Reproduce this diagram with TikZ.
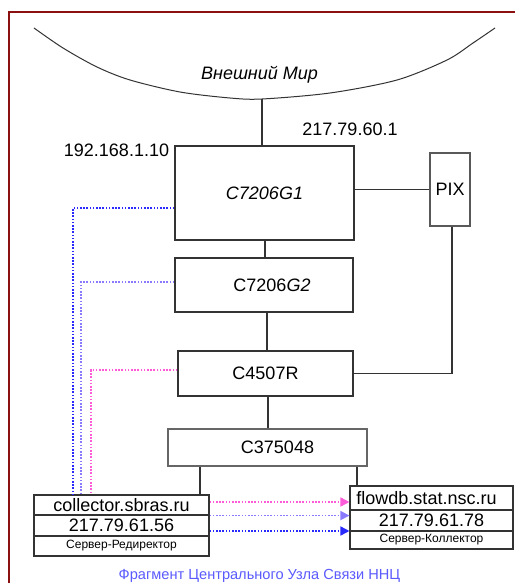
\documentclass[tikz,border=0pt]{standalone}
\usepackage{fontspec}
\setmainfont{Liberation Sans}
\usetikzlibrary{arrows.meta,calc}
\definecolor{framec}{HTML}{8B1010}
\definecolor{bluec}{HTML}{2A2AFF}
\definecolor{purplec}{HTML}{8A7AFF}
\definecolor{pinkc}{HTML}{FF5AD7}
\definecolor{capc}{HTML}{5A5AFF}
\definecolor{linec}{HTML}{333333}
\begin{document}
\begin{tikzpicture}[x=1pt,y=-1pt,
  big/.style={font=\fontsize{18}{20}\selectfont},
  small/.style={font=\fontsize{12}{14}\selectfont},
  box/.style={draw=linec, line width=1.1pt, inner sep=0pt, big},
  wire/.style={draw=linec, line width=1.1pt},
  dotline/.style={line width=1.6pt, dash pattern=on 1.6pt off 1.6pt},
  tip/.style={-{Triangle[length=9pt,width=9pt]}}]
\useasboundingbox (0,0) rectangle (515,583);
% frame
\draw[framec, line width=2.5pt] (9,583) -- (9,12) -- (515,12);
% outer world arc
\draw[draw=linec, line width=1pt] plot[smooth] coordinates {(34,28) (63,48) (97,67) (130,80) (180,92) (230,98) (262,99) (330,93) (397,80) (447,60) (473,43) (495,28)};
\coordinate (arcbot) at (262,99);
\node[big, font=\fontsize{18}{20}\selectfont\itshape] (world) at (259.5,75) {Внешний Мир};
% labels
\node[big] (ipa) at (350,129) {217.79.60.1};
\node[big] (ipb) at (116.5,150) {192.168.1.10};
% routers
\node[box, minimum width=179pt, minimum height=94pt] (g1) at (264.5,193) {\itshape C7206G1};
\node[box, minimum width=178pt, minimum height=54pt] (g2) at (264,285) {\hspace{16pt}C7206\textit{G2}};
\node[box, minimum width=175pt, minimum height=45pt] (c45) at (265.5,373.5) {C4507R};
\node[box, minimum width=199pt, minimum height=37pt, draw=black!60] (c37) at (267.5,447.5) {\hspace{20pt}C375048};
\node[box, minimum width=40pt, minimum height=73pt, draw=black!65] (pix) at (450,189.5) {PIX};
% servers
\node[box, minimum width=175pt, minimum height=20pt] (col1) at (121.5,505) {collector.sbras.ru};
\node[box, minimum width=175pt, minimum height=21pt] (col2) at (121.5,525.5) {217.79.61.56};
\node[box, small, minimum width=175pt, minimum height=20pt] (col3) at (121.5,546) {Сервер-Редиректор};
\node[box, minimum width=163pt, minimum height=24pt] (fl1) at (431.5,498) {\hspace{-10pt}flowdb.stat.nsc.ru};
\node[box, minimum width=163pt, minimum height=21pt] (fl2) at (431.5,520.5) {217.79.61.78};
\node[box, small, minimum width=163pt, minimum height=18pt] (fl3) at (431.5,540) {Сервер-Коллектор};
% caption
\node[font=\fontsize{14.6}{16}\selectfont, text=capc] (cap) at (259.5,576) {Фрагмент Центрального Узла Связи ННЦ};
% solid connectors
\draw[wire] (arcbot) -- (arcbot |- g1.north);
\draw[wire] ([xshift=0.5pt]g1.south) -- ([xshift=0.5pt]g1.south |- g2.north);
\draw[wire] ([xshift=3pt]g2.south) -- ([xshift=3pt]g2.south |- c45.north);
\draw[wire] ([xshift=2.5pt]c45.south) -- ([xshift=2.5pt]c45.south |- c37.north);
\draw[wire] (pix.west -| g1.east) -- (pix.west);
\draw[wire] ([xshift=2pt]pix.south) |- (c45.east);
\draw[wire] ([xshift=-67.5pt]c37.south) -- ([xshift=-67.5pt]c37.south |- col1.north);
\draw[wire] ([xshift=89.5pt]c37.south) -- ([xshift=89.5pt]c37.south |- fl1.north);
% dotted connectors
\draw[dotline, bluec] ([yshift=-15pt]g1.west) -| ([xshift=-48.5pt]col1.north);
\draw[dotline, purplec] ([yshift=3pt]g2.west) -| ([xshift=-40.5pt]col1.north);
\draw[dotline, pinkc] ([yshift=3.5pt]c45.west) -| ([xshift=-30.5pt]col1.north);
% arrows
\draw[dotline, pinkc, tip] ([yshift=3pt]col1.east) -- ([yshift=3pt]col1.east -| fl1.west);
\draw[dotline, purplec, tip] (col1.south east) -- (col1.south east -| fl1.west);
\draw[dotline, bluec, tip] ([yshift=-5.5pt]col2.east) -- ([yshift=-5.5pt]col2.east -| fl2.west);
\end{tikzpicture}
\end{document}
